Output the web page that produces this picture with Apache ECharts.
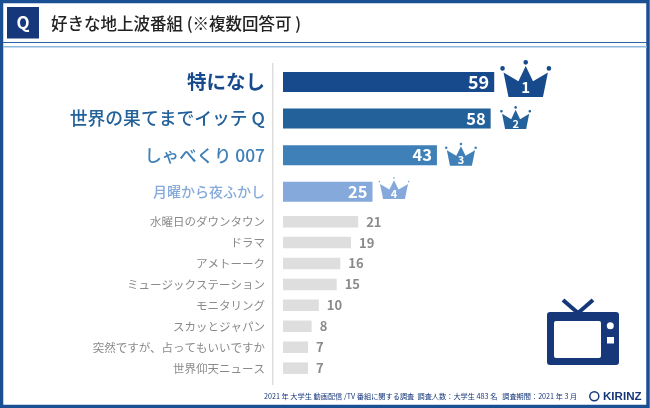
<!DOCTYPE html>
<html>
<head>
<meta charset="utf-8">
<style>html,body{margin:0;padding:0;background:#fff}#chart{width:650px;height:408px}</style>
<script src="https://cdn.jsdelivr.net/npm/echarts@6/dist/echarts.min.js"></script>
</head>
<body>
<div id="chart"></div>
<script>
var topCategories = ["特になし", "世界の果てまでイッテ Q", "しゃべくり 007", "月曜から夜ふかし"];
var topValues = [59, 58, 43, 25];
var restCategories = ["水曜日のダウンタウン", "ドラマ", "アメトーーク", "ミュージックステーション", "モニタリング", "スカッとジャパン", "突然ですが、占ってもいいですか", "世界仰天ニュース"];
var restValues = [21, 19, 16, 15, 10, 8, 7, 7];
var topColors = ["#174a8c", "#23619b", "#3f80b8", "#85a9db"];
var titleText = "好きな地上波番組 (※複数回答可 )";
var footerText = "2021 年 大学生 動画配信 /TV 番組に関する調査  調査人数：大学生 483 名   調査期間：2021 年 3 月";

var FONT = '"Noto Sans CJK JP", sans-serif';
var NAVY = "#16377a";

// 王冠 (先端の丸の大きさだけ変える)
function crown(r) {
  function dot(x, y) {
    return "M" + (x - r) + "," + y + "a" + r + "," + r + " 0 1,0 " + (2 * r) + ",0a" + r + "," + r + " 0 1,0 " + (-2 * r) + ",0z";
  }
  return "path://M25,110L129,110L144,37L99,63L77,18L55,63L10,37Z" + dot(7, 25) + dot(77, 7) + dot(147, 25);
}
var crowns = [
  { size: [51, 37], offset: [31.5, -3.5], r: 7, font: 15, dy: 9 },
  { size: [31, 23], offset: [25, -1], r: 6.5, font: 11, dy: 6 },
  { size: [32, 23], offset: [24, -1], r: 6, font: 11, dy: 6 },
  { size: [31, 22], offset: [21.5, -3.7], r: 4, font: 11, dy: 6 }
];

var labelRich = {
  t0: { fontFamily: FONT, fontSize: 19.5, fontWeight: 700, color: topColors[0] },
  t1: { fontFamily: FONT, fontSize: 17.8, fontWeight: 500, color: topColors[1] },
  t2: { fontFamily: FONT, fontSize: 17.4, fontWeight: 500, color: topColors[2] },
  t3: { fontFamily: FONT, fontSize: 14, fontWeight: 500, color: topColors[3] }
};

var chart = echarts.init(document.getElementById("chart"), null, { renderer: "canvas" });
chart.setOption({
  animation: false,
  backgroundColor: "#ffffff",
  grid: [
    { left: 283, top: 63.7, width: 358, height: 146.4 },
    { left: 283, top: 211.2, width: 358, height: 167.4 }
  ],
  xAxis: [
    { gridIndex: 0, type: "value", min: 0, max: 100, show: false },
    { gridIndex: 1, type: "value", min: 0, max: 100, show: false }
  ],
  yAxis: [
    {
      gridIndex: 0, type: "category", inverse: true, data: topCategories,
      axisLine: { show: false }, axisTick: { show: false },
      axisLabel: {
        margin: 18, interval: 0,
        formatter: function (v, i) { return "{t" + i + "|" + v + "}"; },
        rich: labelRich
      }
    },
    {
      gridIndex: 1, type: "category", inverse: true, data: restCategories,
      axisLine: { show: false }, axisTick: { show: false },
      axisLabel: { margin: 18, interval: 0, fontFamily: FONT, fontSize: 11.5, color: "#8a8a8a" }
    }
  ],
  series: [
    {
      type: "bar", xAxisIndex: 0, yAxisIndex: 0, barWidth: 20,
      data: topValues.map(function (v, i) {
        return {
          value: v,
          itemStyle: { color: topColors[i] },
          label: { fontSize: i === 0 ? 18 : 16.5 }
        };
      }),
      label: { show: true, position: "insideRight", distance: 5, color: "#fff", fontFamily: FONT, fontWeight: 700 },
      markPoint: {
        silent: true,
        data: topValues.map(function (v, i) {
          var c = crowns[i];
          return {
            coord: [v, topCategories[i]],
            symbol: crown(c.r),
            symbolSize: c.size,
            symbolOffset: c.offset,
            itemStyle: { color: topColors[i] },
            label: { show: true, formatter: String(i + 1), position: "inside", offset: [0, c.dy], color: "#fff", fontFamily: FONT, fontWeight: 700, fontSize: c.font }
          };
        })
      }
    },
    {
      type: "bar", xAxisIndex: 1, yAxisIndex: 1, barWidth: 11.5,
      data: restValues,
      itemStyle: { color: "#dedede" },
      label: { show: true, position: "right", distance: 8, color: "#8a8a8a", fontFamily: FONT, fontWeight: 700, fontSize: 13 }
    }
  ],
  graphic: [
    // 枠
    { type: "rect", silent: true, shape: { x: 1.5, y: 1.5, width: 646.5, height: 405 }, style: { fill: "none", stroke: "#1a4f94", lineWidth: 3.5 } },
    // ヘッダー
    { type: "rect", silent: true, shape: { x: 7, y: 7, width: 32, height: 31.5 }, style: { fill: NAVY } },
    { type: "text", silent: true, style: { x: 23, y: 23, text: "Q", align: "center", verticalAlign: "middle", fill: "#fff", font: '700 17px ' + FONT } },
    { type: "text", silent: true, style: { x: 51, y: 24, text: titleText, verticalAlign: "middle", fill: "#222", font: '500 16.5px ' + FONT } },
    { type: "line", silent: true, shape: { x1: 3, y1: 42.5, x2: 647, y2: 42.5 }, style: { stroke: "#2a62a8", lineWidth: 1 } },
    { type: "line", silent: true, shape: { x1: 3, y1: 46.8, x2: 647, y2: 46.8 }, style: { stroke: "#8fb8e0", lineWidth: 1.5 } },
    // 軸の縦線
    { type: "line", silent: true, shape: { x1: 272.7, y1: 63, x2: 272.7, y2: 385 }, style: { stroke: "#dcdcdc", lineWidth: 1.5 } },
    // テレビ
    { type: "line", silent: true, shape: { x1: 563, y1: 300, x2: 578, y2: 313 }, style: { stroke: NAVY, lineWidth: 4 } },
    { type: "line", silent: true, shape: { x1: 593, y1: 300, x2: 578, y2: 313 }, style: { stroke: NAVY, lineWidth: 4 } },
    { type: "rect", silent: true, shape: { x: 547, y: 312, width: 72, height: 53, r: 3 }, style: { fill: NAVY } },
    { type: "rect", silent: true, shape: { x: 554, y: 321, width: 47, height: 37, r: 2 }, style: { fill: "#fff" } },
    { type: "circle", silent: true, shape: { cx: 610.3, cy: 325.7, r: 3.5 }, style: { fill: "#fff" } },
    { type: "rect", silent: true, shape: { x: 607, y: 337, width: 7, height: 6.5 }, style: { fill: "#fff" } },
    // フッター
    { type: "text", silent: true, style: { x: 264, y: 396, text: footerText, verticalAlign: "middle", fill: NAVY, font: '400 7.2px ' + FONT } },
    { type: "circle", silent: true, shape: { cx: 594.3, cy: 396.2, r: 4.5 }, style: { fill: "none", stroke: NAVY, lineWidth: 1.5 } },
    { type: "text", silent: true, style: { x: 603, y: 396.5, text: "KIRINZ", verticalAlign: "middle", fill: NAVY, font: '700 11.6px "Liberation Sans", sans-serif' } }
  ]
});
</script>
</body>
</html>
